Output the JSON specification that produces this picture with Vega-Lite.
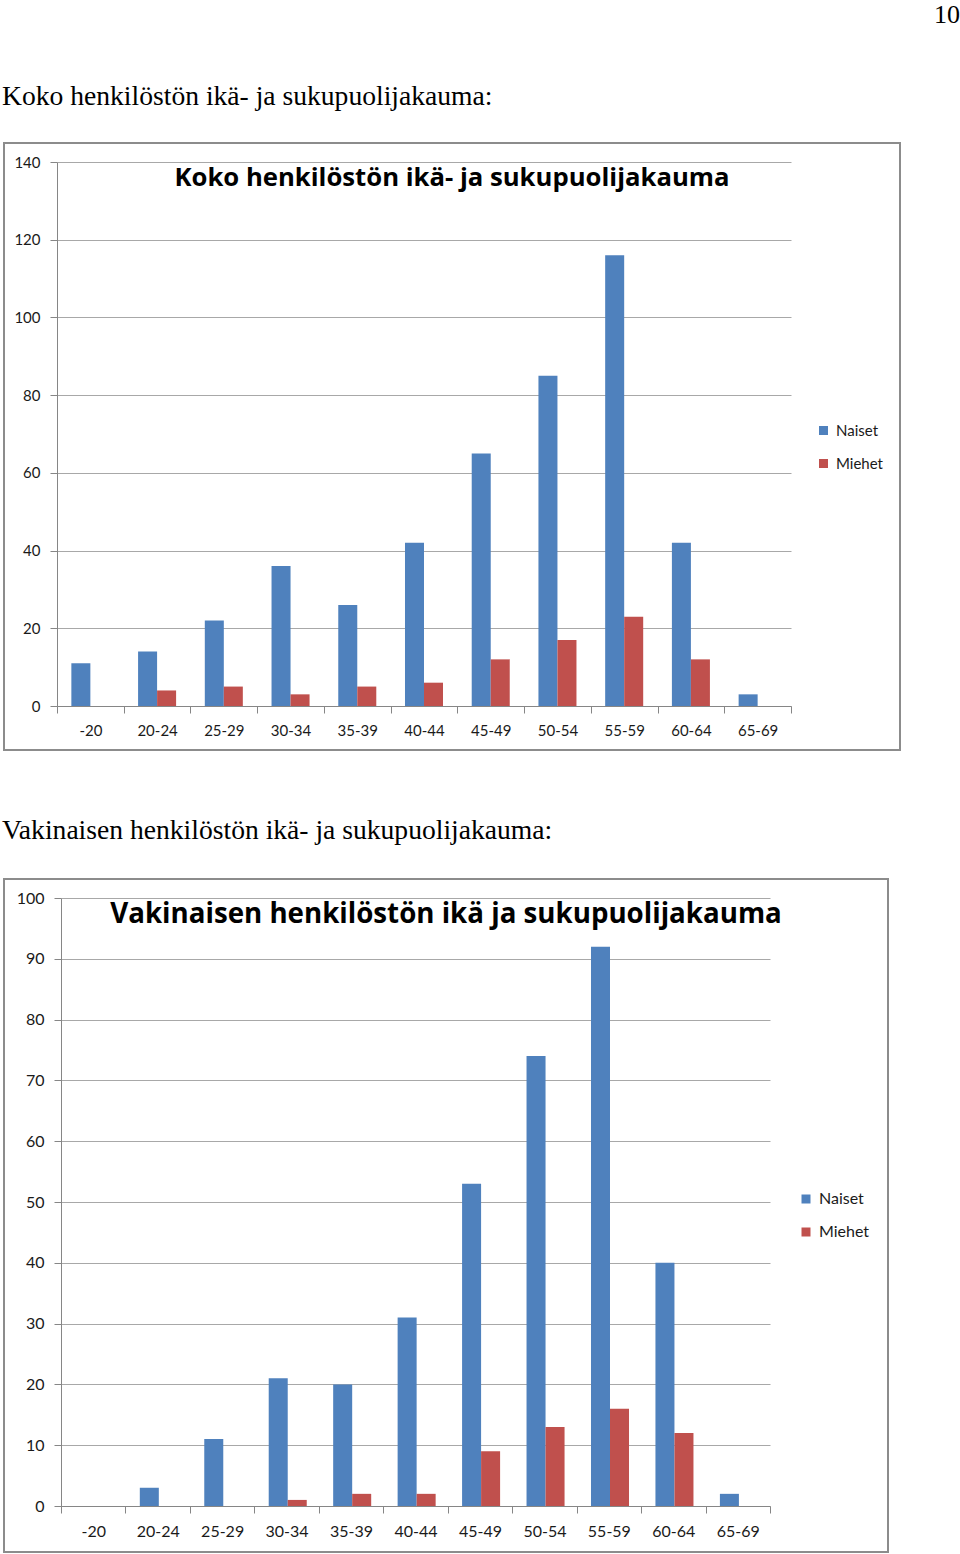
{
  "$schema": "https://vega.github.io/schema/vega-lite/v6.json",
  "padding": {"left": 2, "top": 2, "right": 0, "bottom": 0},
  "background": "white",
  "title": {"text": "10", "anchor": "end", "frame": "bounds", "font": "Liberation Serif", "fontSize": 26, "fontWeight": "normal", "color": "black", "baseline": "alphabetic", "dx": 59, "offset": 34},
  "datasets": {
    "koko": [
      {"ika": "-20", "sukupuoli": "Naiset", "n": 11},
      {"ika": "-20", "sukupuoli": "Miehet", "n": 0},
      {"ika": "20-24", "sukupuoli": "Naiset", "n": 14},
      {"ika": "20-24", "sukupuoli": "Miehet", "n": 4},
      {"ika": "25-29", "sukupuoli": "Naiset", "n": 22},
      {"ika": "25-29", "sukupuoli": "Miehet", "n": 5},
      {"ika": "30-34", "sukupuoli": "Naiset", "n": 36},
      {"ika": "30-34", "sukupuoli": "Miehet", "n": 3},
      {"ika": "35-39", "sukupuoli": "Naiset", "n": 26},
      {"ika": "35-39", "sukupuoli": "Miehet", "n": 5},
      {"ika": "40-44", "sukupuoli": "Naiset", "n": 42},
      {"ika": "40-44", "sukupuoli": "Miehet", "n": 6},
      {"ika": "45-49", "sukupuoli": "Naiset", "n": 65},
      {"ika": "45-49", "sukupuoli": "Miehet", "n": 12},
      {"ika": "50-54", "sukupuoli": "Naiset", "n": 85},
      {"ika": "50-54", "sukupuoli": "Miehet", "n": 17},
      {"ika": "55-59", "sukupuoli": "Naiset", "n": 116},
      {"ika": "55-59", "sukupuoli": "Miehet", "n": 23},
      {"ika": "60-64", "sukupuoli": "Naiset", "n": 42},
      {"ika": "60-64", "sukupuoli": "Miehet", "n": 12},
      {"ika": "65-69", "sukupuoli": "Naiset", "n": 3},
      {"ika": "65-69", "sukupuoli": "Miehet", "n": 0}
    ],
    "vak": [
      {"ika": "-20", "sukupuoli": "Naiset", "n": 0},
      {"ika": "-20", "sukupuoli": "Miehet", "n": 0},
      {"ika": "20-24", "sukupuoli": "Naiset", "n": 3},
      {"ika": "20-24", "sukupuoli": "Miehet", "n": 0},
      {"ika": "25-29", "sukupuoli": "Naiset", "n": 11},
      {"ika": "25-29", "sukupuoli": "Miehet", "n": 0},
      {"ika": "30-34", "sukupuoli": "Naiset", "n": 21},
      {"ika": "30-34", "sukupuoli": "Miehet", "n": 1},
      {"ika": "35-39", "sukupuoli": "Naiset", "n": 20},
      {"ika": "35-39", "sukupuoli": "Miehet", "n": 2},
      {"ika": "40-44", "sukupuoli": "Naiset", "n": 31},
      {"ika": "40-44", "sukupuoli": "Miehet", "n": 2},
      {"ika": "45-49", "sukupuoli": "Naiset", "n": 53},
      {"ika": "45-49", "sukupuoli": "Miehet", "n": 9},
      {"ika": "50-54", "sukupuoli": "Naiset", "n": 74},
      {"ika": "50-54", "sukupuoli": "Miehet", "n": 13},
      {"ika": "55-59", "sukupuoli": "Naiset", "n": 92},
      {"ika": "55-59", "sukupuoli": "Miehet", "n": 16},
      {"ika": "60-64", "sukupuoli": "Naiset", "n": 40},
      {"ika": "60-64", "sukupuoli": "Miehet", "n": 12},
      {"ika": "65-69", "sukupuoli": "Naiset", "n": 2},
      {"ika": "65-69", "sukupuoli": "Miehet", "n": 0}
    ]
  },
  "config": {
    "view": {"stroke": "#8c8c8c", "strokeWidth": 2},
    "axis": {
      "labelFont": "Lato", "labelFontSize": 15, "labelColor": "#1a1a1a",
      "domainColor": "#868686", "tickColor": "#868686", "gridColor": "#a8a8a8",
      "domainWidth": 1, "tickWidth": 1, "gridWidth": 1, "tickSize": 7, "title": null
    },
    "legend": {
      "labelFont": "Lato", "labelFontSize": 15, "labelColor": "#1a1a1a",
      "symbolType": "square", "symbolSize": 81, "symbolStrokeWidth": 0,
      "rowPadding": 17, "labelOffset": 5, "padding": 0, "title": null
    }
  },
  "resolve": {"scale": {"color": "independent"}, "legend": {"color": "independent"}},
  "spacing": 66,
  "vconcat": [
    {
      "title": {"text": "Koko henkilöstön ikä- ja sukupuolijakauma:", "anchor": "start", "frame": "bounds", "font": "Liberation Serif", "fontSize": 27.6, "fontWeight": "normal", "color": "black", "baseline": "alphabetic", "offset": 9, "dx": -1},
      "resolve": {"scale": {"color": "independent"}, "legend": {"color": "independent"}},
      "vconcat": [
        {
          "width": 896,
          "height": 607,
          "data": {"name": "koko"},
          "title": {"text": "Koko henkilöstön ikä- ja sukupuolijakauma", "anchor": "middle", "frame": "group", "font": "Open Sans", "fontSize": 25.7, "fontWeight": "bold", "color": "black", "baseline": "alphabetic", "offset": -69},
          "mark": {"type": "bar"},
          "encoding": {
            "x": {"field": "ika", "type": "nominal", "sort": null,
                  "scale": {"range": [53, 787], "paddingInner": 0, "paddingOuter": 0},
                  "axis": {"offset": -44, "tickBand": "extent", "labelAngle": 0, "labelPadding": 10, "grid": false}},
            "xOffset": {"field": "sukupuoli", "type": "nominal", "sort": ["Naiset", "Miehet"],
                        "scale": {"paddingInner": 0, "paddingOuter": 0.755}},
            "y": {"field": "n", "type": "quantitative",
                  "scale": {"domain": [0, 140], "range": [563, 19], "nice": false},
                  "axis": {"offset": -53, "values": [0, 20, 40, 60, 80, 100, 120, 140], "labelPadding": 10, "grid": true}},
            "color": {"field": "sukupuoli", "type": "nominal", "sort": ["Naiset", "Miehet"],
                      "scale": {"range": ["#4F81BD", "#C0504D"]},
                      "legend": {"orient": "none", "legendX": 812, "legendY": 280}}
          }
        }
      ]
    },
    {
      "title": {"text": "Vakinaisen henkilöstön ikä- ja sukupuolijakauma:", "anchor": "start", "frame": "bounds", "font": "Liberation Serif", "fontSize": 27.6, "fontWeight": "normal", "color": "black", "baseline": "alphabetic", "offset": 11, "dx": -1},
      "resolve": {"scale": {"color": "independent"}, "legend": {"color": "independent"}},
      "vconcat": [
        {
          "width": 884,
          "height": 673,
          "data": {"name": "vak"},
          "title": {"text": "Vakinaisen henkilöstön ikä ja sukupuolijakauma", "anchor": "middle", "frame": "group", "font": "Open Sans", "fontSize": 27.7, "fontWeight": "bold", "color": "black", "baseline": "alphabetic", "offset": -72},
          "mark": {"type": "bar"},
          "encoding": {
            "x": {"field": "ika", "type": "nominal", "sort": null,
                  "scale": {"range": [57, 766], "paddingInner": 0, "paddingOuter": 0},
                  "axis": {"offset": -46, "tickBand": "extent", "labelAngle": 0, "labelPadding": 10, "labelFontSize": 16, "grid": false}},
            "xOffset": {"field": "sukupuoli", "type": "nominal", "sort": ["Naiset", "Miehet"],
                        "scale": {"paddingInner": 0, "paddingOuter": 0.72}},
            "y": {"field": "n", "type": "quantitative",
                  "scale": {"domain": [0, 100], "range": [627, 19], "nice": false},
                  "axis": {"offset": -57, "values": [0, 10, 20, 30, 40, 50, 60, 70, 80, 90, 100], "labelPadding": 10, "labelFontSize": 16, "grid": true}},
            "color": {"field": "sukupuoli", "type": "nominal", "sort": ["Naiset", "Miehet"],
                      "scale": {"range": ["#4F81BD", "#C0504D"]},
                      "legend": {"orient": "none", "legendX": 794, "legendY": 312, "labelFontSize": 16, "rowPadding": 17}}
          }
        }
      ]
    }
  ]
}
